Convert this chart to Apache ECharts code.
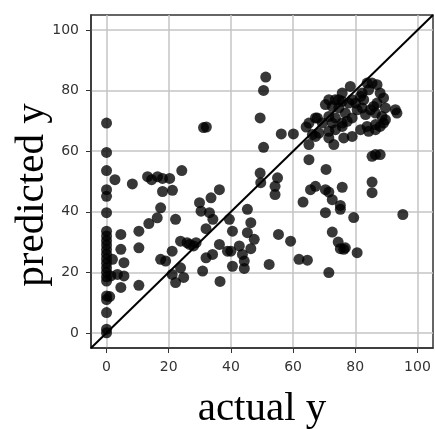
<!DOCTYPE html>
<html><head><meta charset="utf-8">
<script src="https://cdn.jsdelivr.net/npm/echarts@6/dist/echarts.min.js"></script>
<style>html,body{margin:0;padding:0;background:#fff}#c{width:435px;height:429px}</style>
</head><body><div id="c"></div>
<script>
// Axis ticks and range
const tickValues = [0, 20, 40, 60, 80, 100];
const axisRange = [-5, 105];
const xTitle = 'actual y';
const yTitle = 'predicted y';

// [actual y, predicted y] pairs, grouped by region of the plot
const zeroGroup = [
  [0,69.3],[0,59.6],[0,53.6],[0,47.3],[0,45.1],[0,39.7],[0,33.6],[0,32],[0,30.5],[0,29],
  [0,27.5],[0,26],[0,24.5],[0,23],[0,21.5],[0,20],[0,18.5],[0,17.1],[0,12.2],[0,11],
  [0,6.7],[0,1.2],[0,0]
];
const nearZeroGroup = [
  [2.7,50.6],[4.6,32.5],[4.6,27.6],[1.9,24.3],[5.6,23.2],[3.5,19.3],[5.6,18.8],[1.4,18.8],
  [4.6,15],[1,12]
];
const lowGroup = [
  [8.3,49.2],[10.4,33.6],[10.4,28.1],[10.4,15.7],[13.6,36.1],[16.3,38],[17.4,41.3],[22.2,37.5],
  [17.4,24.3],[19,23.7],[21.1,27],[23.8,30.3],[25.9,29.8],[28,28.7],[23.8,21.5],[24.8,18.3],
  [22.2,16.6],[21.1,19.3],[13.2,51.6],[14.5,50.6],[16.4,51.6],[18,51],[20.3,51],[18,46.7],
  [21.2,47.1],[24.2,53.6],[31.2,67.8],[32.1,68]
];
const midGroup = [
  [29.9,43],[33.6,44.6],[36.3,47.3],[30.4,40.2],[33.1,39.7],[34.2,37.5],[32,34.4],[26.7,29.2],
  [28.8,29.8],[36.3,29.2],[39.5,37.5],[40.5,33.6],[40,27],[42.7,28.7],[43.7,25.9],[44.3,23.7],
  [32,24.8],[34.1,25.9],[30.9,20.4],[36.5,17],[40.5,22],[44.3,21.3],[45.3,40.8],[46.4,36.4],
  [45.3,33.1],[47.5,30.9],[46.4,27.8],[38.9,27]
];
const upperMidGroup = [
  [51.2,84.5],[50.5,80.1],[49.4,71],[50.5,61.3],[49.4,52.8],[49.6,49.6],[55,51.2],[54.2,48.4],
  [54.2,45.7],[56.2,65.7],[60.1,65.7],[64.2,68],[65.1,62.2],[65.1,57.2],[52.3,22.6],[55.3,32.5],
  [59.2,30.3],[63.2,43.2],[61.9,24.3],[64.6,24]
];
const highUnderGroup = [
  [65.6,47.3],[67.2,48.4],[70.4,47.3],[71.5,46.5],[72.6,44],[75.8,48.1],[75.2,42.1],[70.6,54],
  [70.4,39.7],[79.5,38.1],[75.2,40.8],[72.6,33.3],[74.5,30],[75.2,27.8],[76.3,27.6],[76.8,28.1],
  [80.6,26.5],[71.5,19.9],[85.4,49.8],[85.4,46.3],[95.3,39.1],[85.4,58.3],[86.5,58.9],[88,58.9]
];
const clusterGroup = [
  [78.4,81.4],[85.4,82.5],[87,82],[84.3,80.3],[88,79.2],[82.2,79.2],[75.8,79.2],[89.1,77.6],
  [71.5,77],[73.6,77],[75.8,76.5],[77.9,75.9],[80.1,75.9],[70.4,75.4],[72.6,74.8],[74.7,74.3],
  [82.2,74.3],[85.9,74.8],[89.7,74.3],[92.9,73.7],[93.4,72.6],[83.3,72.1],[86.5,72.6],[88.6,71.5],
  [76.8,72.6],[79,71],[71.5,71.5],[73.6,71],[67.2,71],[65.1,69.3],[69.4,69.3],[72.6,69.3],
  [75.8,69.3],[77.4,69.9],[83.8,68.2],[86.5,68.8],[89.1,69.3],[89.7,70.4],[81.7,67.1],[84.3,66.6],
  [86.5,67.1],[88,68.2],[71.5,66.6],[73.6,67.1],[75.8,68.2],[66.2,65.5],[68.3,66],[71.5,64.4],
  [79,64.9],[76.3,64.4],[73.1,62.2],[67.8,71],[67.2,64.9],[80.6,73.7],[82.7,77],[74.7,77],
  [79,77],[81.7,78.1],[84.9,73.7],[87,75.9],[83.8,82.5]
];

const points = [].concat(zeroGroup, nearZeroGroup, lowGroup, midGroup, upperMidGroup, highUnderGroup, clusterGroup);

const chart = echarts.init(document.getElementById('c'), null, {renderer: 'canvas'});

function makeAxis(labelMargin) {
  return {
    type: 'value',
    min: axisRange[0],
    max: axisRange[1],
    axisLine: {show: true, onZero: false, lineStyle: {color: '#333', width: 1.5}},
    axisTick: {show: true, length: 5, customValues: tickValues, lineStyle: {color: '#333', width: 1}},
    axisLabel: {customValues: tickValues, color: '#333', fontSize: 14, fontFamily: 'DejaVu Sans', margin: labelMargin},
    splitLine: {show: true, lineStyle: {color: '#c4c4c4', width: 1.5}}
  };
}

const option = {
  animation: false,
  backgroundColor: '#fff',
  grid: {left: 91, right: 2, top: 15, bottom: 81, show: true, borderColor: '#333', borderWidth: 1.5, containLabel: false},
  xAxis: makeAxis(12),
  yAxis: makeAxis(12),
  series: [
    {
      type: 'scatter',
      data: points,
      symbolSize: 11,
      itemStyle: {color: '#000', opacity: 0.78},
      z: 2
    },
    {
      type: 'line',
      data: axisRange.map(v => [v, v]),
      symbol: 'none',
      lineStyle: {color: '#000', width: 2},
      z: 3
    }
  ],
  graphic: [
    {
      type: 'text', x: 262, y: 409, z: 10,
      style: {text: xTitle, font: '41px "Liberation Serif"', fill: '#000', align: 'center', verticalAlign: 'middle'}
    },
    {
      type: 'text', x: 32, y: 195, rotation: Math.PI / 2, z: 10,
      style: {text: yTitle, font: '41px "Liberation Serif"', fill: '#000', align: 'center', verticalAlign: 'middle'}
    }
  ]
};
chart.setOption(option);
</script>
</body></html>
